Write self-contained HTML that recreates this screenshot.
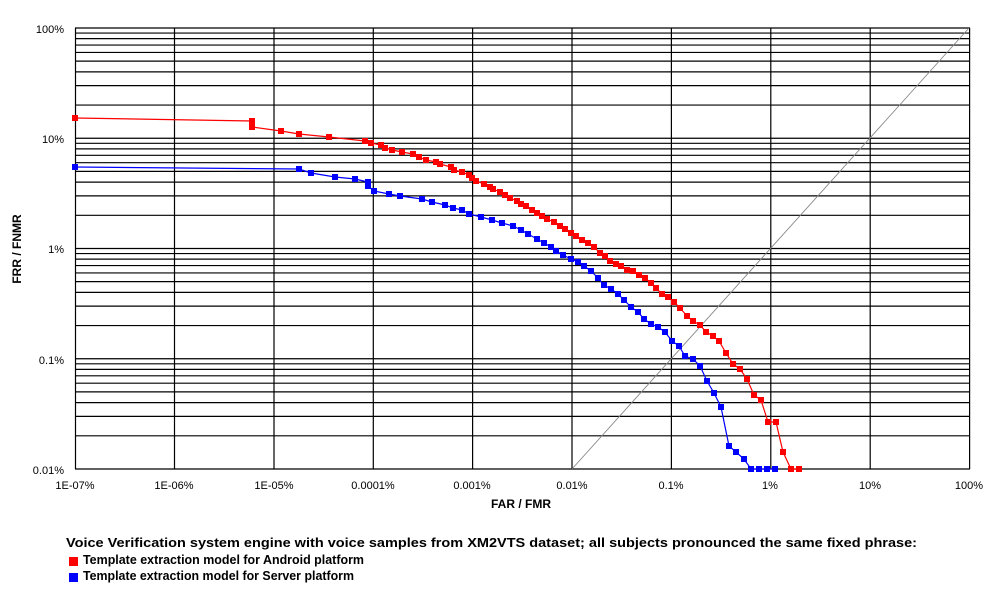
<!DOCTYPE html>
<html><head><meta charset="utf-8"><style>
html,body{margin:0;padding:0;background:#fff;}
svg{display:block;font-family:"Liberation Sans",Arial,sans-serif;}
</style></head><body>
<svg width="1000" height="600" viewBox="0 0 1000 600" xmlns="http://www.w3.org/2000/svg">
<defs>
<g id="dec" stroke="#000" stroke-width="1.2">
<line x1="75" x2="970" y1="0" y2="0"/>
<line x1="75" x2="970" y1="-33.2" y2="-33.2"/>
<line x1="75" x2="970" y1="-52.6" y2="-52.6"/>
<line x1="75" x2="970" y1="-66.4" y2="-66.4"/>
<line x1="75" x2="970" y1="-77.1" y2="-77.1"/>
<line x1="75" x2="970" y1="-85.8" y2="-85.8"/>
<line x1="75" x2="970" y1="-93.2" y2="-93.2"/>
<line x1="75" x2="970" y1="-99.6" y2="-99.6"/>
<line x1="75" x2="970" y1="-105.2" y2="-105.2"/>
</g>
<marker id="mr" markerWidth="7" markerHeight="7" refX="3.5" refY="3.5" markerUnits="userSpaceOnUse"><rect x="0.5" y="0.5" width="6" height="6" fill="#f00"/></marker>
<marker id="mb" markerWidth="7" markerHeight="7" refX="3.5" refY="3.5" markerUnits="userSpaceOnUse"><rect x="0.5" y="0.5" width="6" height="6" fill="#00f"/></marker>
</defs>
<use href="#dec" transform="translate(0,469)"/>
<use href="#dec" transform="translate(0,358.75)"/>
<use href="#dec" transform="translate(0,248.5)"/>
<use href="#dec" transform="translate(0,138.25)"/>
<line x1="75" x2="970" y1="28" y2="28" stroke="#000" stroke-width="1.2"/>
<g stroke="#000" stroke-width="1.2">
<line x1="75.5" x2="75.5" y1="28" y2="469"/>
<line x1="174.5" x2="174.5" y1="28" y2="469"/>
<line x1="274" x2="274" y1="28" y2="469"/>
<line x1="373.3" x2="373.3" y1="28" y2="469"/>
<line x1="472.6" x2="472.6" y1="28" y2="469"/>
<line x1="572" x2="572" y1="28" y2="469"/>
<line x1="671.4" x2="671.4" y1="28" y2="469"/>
<line x1="770.8" x2="770.8" y1="28" y2="469"/>
<line x1="870.2" x2="870.2" y1="28" y2="469"/>
<line x1="969.6" x2="969.6" y1="28" y2="469"/>
</g>
<line x1="572" y1="469" x2="969" y2="28" stroke="#888" stroke-width="0.9"/>

<polyline fill="none" stroke="#f00" stroke-width="1.2" marker-start="url(#mr)" marker-mid="url(#mr)" marker-end="url(#mr)" points="75,118 252,121 252,127 281,131 299,134 329,137 365,141 371,143 381,145 385,148 392,150 402,152 413,154 419,157 426,160 436,162 440,164 451,167 454,170 462,172 469,175 472,178 476,181 484,184 490,187 493,189 500,192 505,195 510,198 517,201 521,204 526,206 532,210 537,213 542,216 547,219 554,222 560,226 565,229 571,233 576,236 582,240 588,243 594,247 600,253 605,256 610,261 616,264 621,266 627,270 633,271 639,275 645,278 651,283 656,288 662,294 668,297 674,302 680,308 687,316 693,321 700,325 706,332 713,336 719,341 726,353 733,364 740,369 747,379 754,395 761,400 768,422 776,422 783,452 791,469 799,469"/>

<polyline fill="none" stroke="#00f" stroke-width="1.2" marker-start="url(#mb)" marker-mid="url(#mb)" marker-end="url(#mb)" points="75,167 299,169 311,173 335,177 355,179 368,182 368,186 374,191 389,194 400,196 422,199 432,202 445,205 453,208 462,210 469,214 481,217 492,220 502,223 513,226 521,230 528,234 537,239 544,243 551,247 556,251 563,255 571,259 578,262 584,266 591,271 598,278 604,285 611,289 618,294 624,300 631,307 638,312 644,319 651,324 658,327 665,332 672,341 679,346 685,356 693,359 700,366 707,381 714,393 721,407 729,446 736,452 744,459 751,469 759,469 767,469 775,469"/>

<g font-size="11" fill="#000" text-anchor="end">
<text x="64" y="33">100%</text>
<text x="64" y="143">10%</text>
<text x="64" y="253">1%</text>
<text x="64" y="364">0.1%</text>
<text x="64" y="474">0.01%</text>
</g>
<g font-size="11" fill="#000" text-anchor="middle">
<text x="75" y="489">1E-07%</text>
<text x="174" y="489">1E-06%</text>
<text x="274" y="489">1E-05%</text>
<text x="373" y="489">0.0001%</text>
<text x="472" y="489">0.001%</text>
<text x="572" y="489">0.01%</text>
<text x="671" y="489">0.1%</text>
<text x="770" y="489">1%</text>
<text x="870" y="489">10%</text>
<text x="969" y="489">100%</text>
</g>
<text x="521" y="508" font-size="12" font-weight="bold" text-anchor="middle">FAR / FMR</text>
<text transform="translate(21,249) rotate(-90)" font-size="12" font-weight="bold" text-anchor="middle">FRR / FNMR</text>
<g font-size="13" font-weight="bold" fill="#000">
<text x="66" y="547" textLength="851" lengthAdjust="spacingAndGlyphs">Voice Verification system engine with voice samples from XM2VTS dataset; all subjects pronounced the same fixed phrase:</text>
<rect x="69" y="557" width="9" height="9" fill="#f00"/>
<text x="83" y="564" textLength="281" lengthAdjust="spacingAndGlyphs">Template extraction model for Android platform</text>
<rect x="69" y="573" width="9" height="9" fill="#00f"/>
<text x="83" y="580" textLength="271" lengthAdjust="spacingAndGlyphs">Template extraction model for Server platform</text>
</g>
</svg>
</body></html>
